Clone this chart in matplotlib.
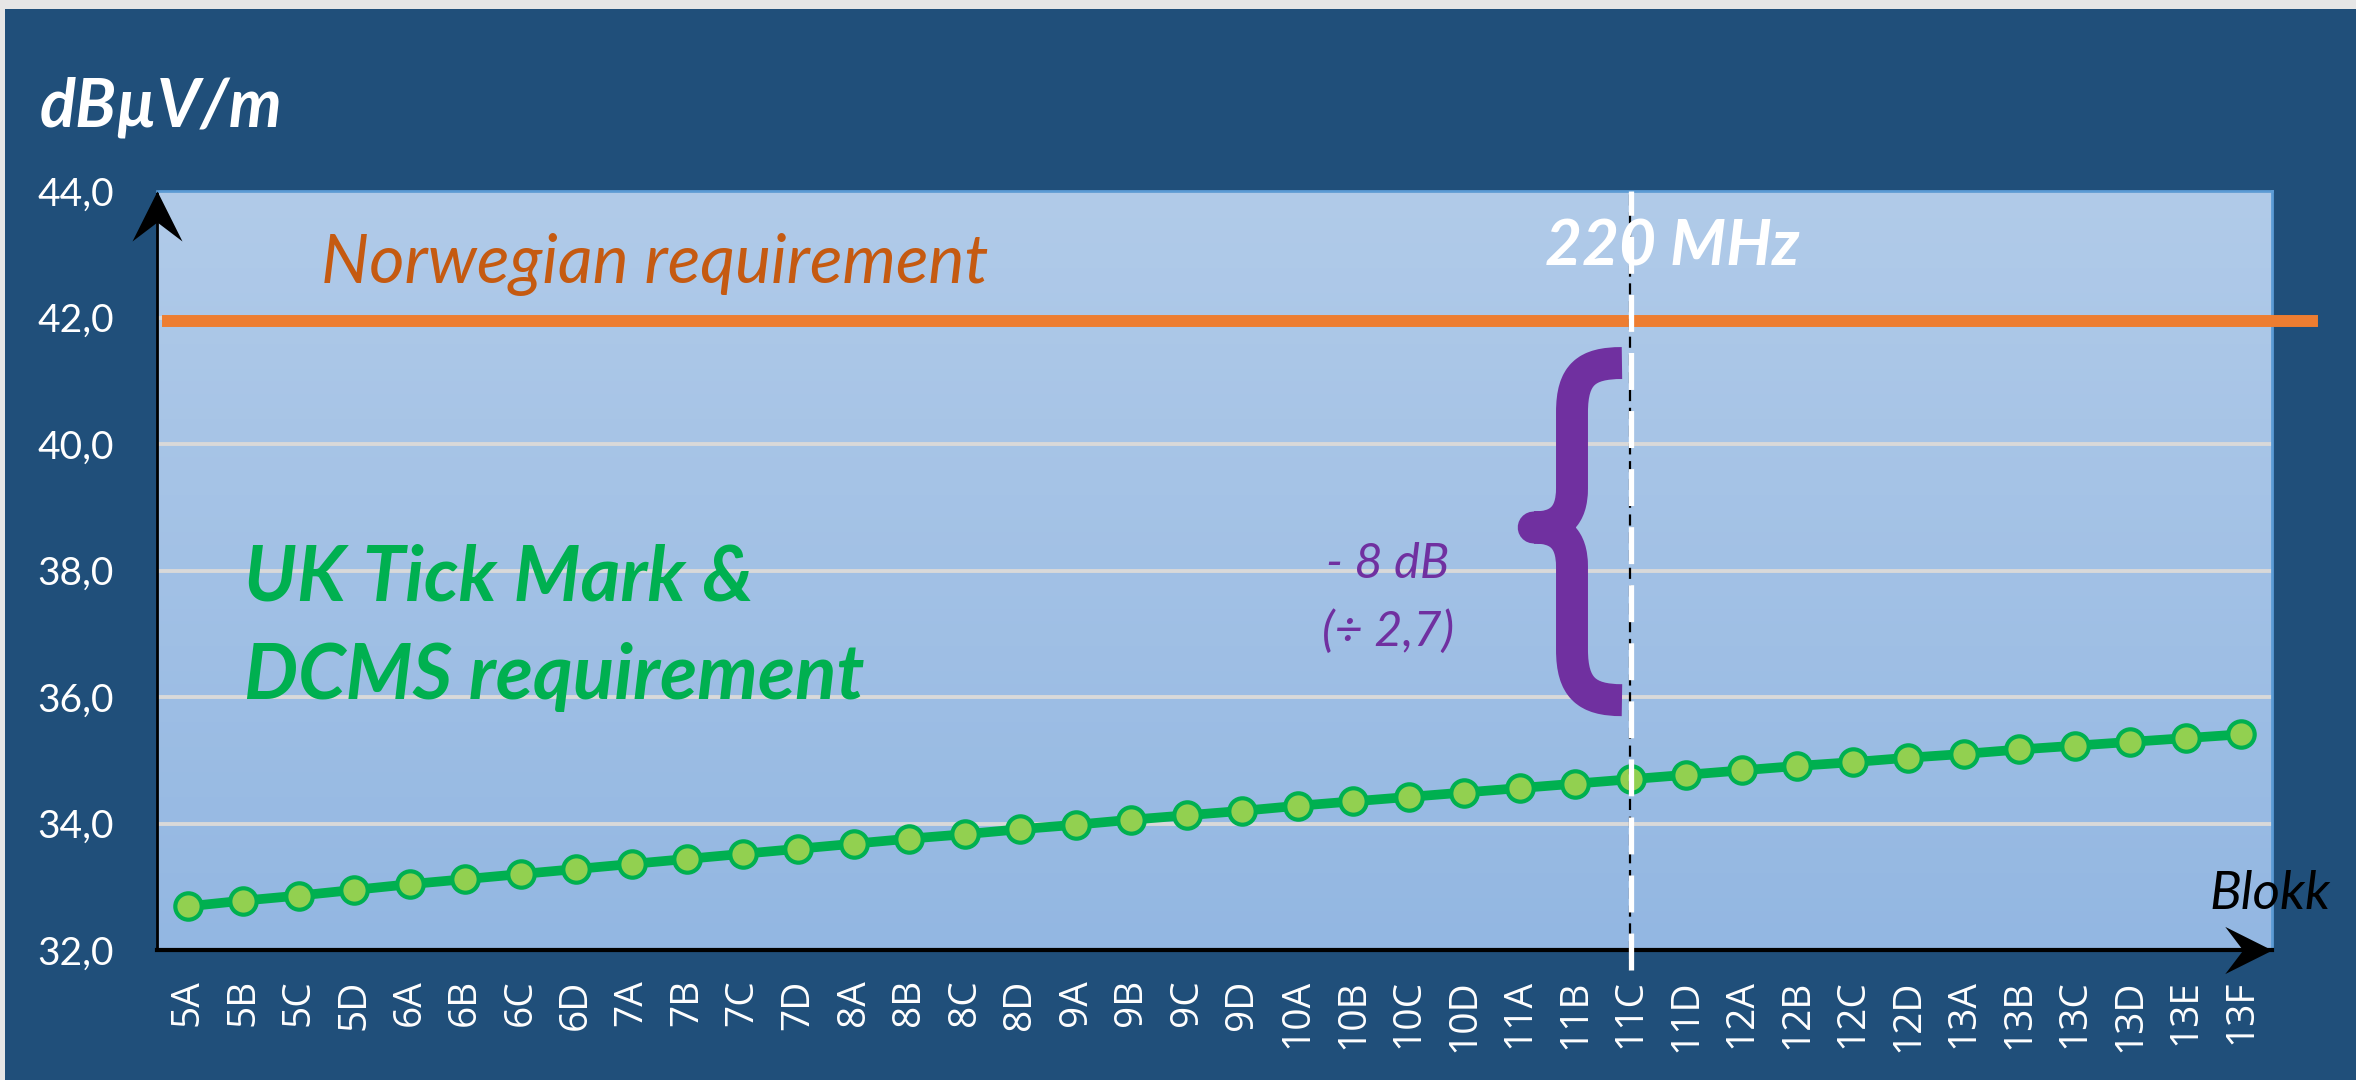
import numpy as np
import matplotlib
matplotlib.use('Agg')
import matplotlib.pyplot as plt
from matplotlib.colors import LinearSegmentedColormap
from matplotlib.patches import Rectangle, PathPatch
from matplotlib.path import Path

# DAB blocks and the UK field strength requirement (dBuV/m)
blocks = ['5A', '5B', '5C', '5D', '6A', '6B', '6C', '6D', '7A', '7B', '7C', '7D',
          '8A', '8B', '8C', '8D', '9A', '9B', '9C', '9D', '10A', '10B', '10C', '10D',
          '11A', '11B', '11C', '11D', '12A', '12B', '12C', '12D', '13A', '13B', '13C',
          '13D', '13E', '13F']
uk_values = [32.69, 32.78, 32.86, 32.95, 33.04, 33.12, 33.20, 33.28, 33.36, 33.44,
             33.52, 33.60, 33.68, 33.76, 33.83, 33.91, 33.98, 34.06, 34.13, 34.20,
             34.28, 34.35, 34.42, 34.49, 34.56, 34.63, 34.70, 34.77, 34.84, 34.91,
             34.97, 35.04, 35.10, 35.17, 35.23, 35.29, 35.35, 35.41]
norway_value = 41.95
marker_block = '11C'
y_ticks = [32, 34, 36, 38, 40, 42, 44]
y_tick_labels = ['32,0', '34,0', '36,0', '38,0', '40,0', '42,0', '44,0']
brace_top, brace_mid, brace_bottom = 41.28, 38.68, 35.95

W, H = 2356, 1080
DARK = '#204F7A'
fig = plt.figure(figsize=(W / 100, H / 100), dpi=100)
fig.patch.set_facecolor('#E6E6E6')
fig.add_artist(Rectangle((5 / W, 0), 1, (H - 9) / H, transform=fig.transFigure,
                         facecolor=DARK, edgecolor='none', zorder=0))

ax = fig.add_axes([157 / W, (H - 950) / H, (2272 - 157) / W, (950 - 191) / H])
ax.set_facecolor('none')

# gradient plot area
cmap = LinearSegmentedColormap.from_list('bg', ['#B1CBE9', '#93B7E2'])
grad = np.linspace(0, 1, 256).reshape(-1, 1)
ax.imshow(grad, cmap=cmap, extent=(0, 1, 0, 1), transform=ax.transAxes,
          aspect='auto', zorder=0, origin='upper')

x = np.arange(len(blocks))
ax.set_xlim(-0.55, len(blocks) - 0.45)
ax.set_ylim(y_ticks[0], y_ticks[-1])

ax.set_axisbelow(True)
ax.yaxis.grid(True, color='#D9D9D9', lw=2.8)
ax.set_yticks(y_ticks)
ax.set_yticklabels(y_tick_labels, family='Lato', fontsize=28, color='white')
ax.set_xticks(x)
ax.set_xticklabels(blocks, family='Open Sans', fontsize=28, color='white', rotation=90)
ax.tick_params(axis='y', length=0, pad=31)
ax.tick_params(axis='x', length=0, pad=21)

for side in ['top', 'right']:
    ax.spines[side].set_color('#5B9BD5')
    ax.spines[side].set_linewidth(2)
ax.spines['left'].set_color('black')
ax.spines['left'].set_linewidth(2)
ax.spines['bottom'].set_color('black')
ax.spines['bottom'].set_linewidth(3)

# stealth arrow heads on the axes
up_head = Path([(0, 0), (0.5, -1), (0, -0.62), (-0.5, -1), (0, 0)])
right_head = Path([(0, 0), (-1, 0.5), (-0.62, 0), (-1, -0.5), (0, 0)])
ax.plot([0], [1], transform=ax.transAxes, marker=up_head, markersize=72,
        color='black', mew=0, clip_on=False, zorder=6)
ax.plot([1], [0], transform=ax.transAxes, marker=right_head, markersize=68,
        color='black', mew=0, clip_on=False, zorder=6)

# Norwegian requirement line
ax.axhline(norway_value, xmin=0.005, xmax=1.019, color='#ED7D31', lw=8.6,
           clip_on=False, zorder=3)

# UK tick mark line
ax.plot(x, uk_values, color='#00B050', lw=7, marker='o', markersize=19,
        markerfacecolor='#92D050', markeredgecolor='#00B050', mew=3, zorder=4)

# 220 MHz dashed marker
xi = blocks.index(marker_block)
ax.plot([xi - 0.02, xi - 0.02], [31.69, y_ticks[-1]], color='black', lw=1.6,
        dashes=(5, 3), clip_on=False, zorder=5)
ax.plot([xi, xi], [31.69, y_ticks[-1]], color='white', lw=3.8, dashes=(7, 4),
        clip_on=False, zorder=5)

# brace showing the gap
bx_end, bx_stem, bx_tip = xi - 0.16, xi - 1.06, xi - 1.75
verts = [(bx_end, brace_top),
         (bx_stem + 0.26, brace_top), (bx_stem, brace_top - 0.18), (bx_stem, brace_top - 0.78),
         (bx_stem, brace_mid + 0.62),
         (bx_stem, brace_mid + 0.17), (bx_stem - 0.24, brace_mid), (bx_tip, brace_mid),
         (bx_stem - 0.24, brace_mid), (bx_stem, brace_mid - 0.17), (bx_stem, brace_mid - 0.62),
         (bx_stem, brace_bottom + 0.8),
         (bx_stem, brace_bottom + 0.2), (bx_stem + 0.26, brace_bottom), (bx_end, brace_bottom)]
codes = [Path.MOVETO, Path.CURVE4, Path.CURVE4, Path.CURVE4, Path.LINETO,
         Path.CURVE4, Path.CURVE4, Path.CURVE4, Path.CURVE4, Path.CURVE4, Path.CURVE4,
         Path.LINETO, Path.CURVE4, Path.CURVE4, Path.CURVE4]
ax.add_patch(PathPatch(Path(verts, codes), facecolor='none', edgecolor='#7030A0',
                       lw=23, capstyle='butt', joinstyle='round', zorder=5))

# texts
fig.text(40 / W, 1 - 127 / H, 'dBµV/m', ha='left', va='baseline', family='Lato',
         fontsize=48, fontweight='bold', style='italic', color='white')
ax.text(2.41, 42.54, 'Norwegian requirement', family='Lato', style='italic',
        fontsize=49, color='#C55A11', ha='left', va='baseline', zorder=6)
ax.text(24.45, 42.83, '220 MHz', family='Lato', style='italic', fontweight='bold',
        fontsize=46, color='white', ha='left', va='baseline', zorder=6)
ax.text(1.02, 37.52, 'UK Tick Mark &', family='Lato', style='italic', fontweight='bold',
        fontsize=55, color='#00B050', ha='left', va='baseline', zorder=6)
ax.text(1.02, 35.97, 'DCMS requirement', family='Lato', style='italic', fontweight='bold',
        fontsize=55, color='#00B050', ha='left', va='baseline', zorder=6)
ax.text(21.62, 37.88, '- 8 dB', family='Lato', style='italic', fontsize=35,
        color='#7030A0', ha='center', va='baseline', zorder=6)
ax.text(21.62, 36.80, '(÷ 2,7)', family='Lato', style='italic', fontsize=35,
        color='#7030A0', ha='center', va='baseline', zorder=6)
ax.text(36.42, 32.65, 'Blokk', family='Lato', style='italic', fontsize=38,
        color='black', ha='left', va='baseline', clip_on=False, zorder=6)

fig.savefig('out.png', dpi=100, facecolor=fig.get_facecolor())
